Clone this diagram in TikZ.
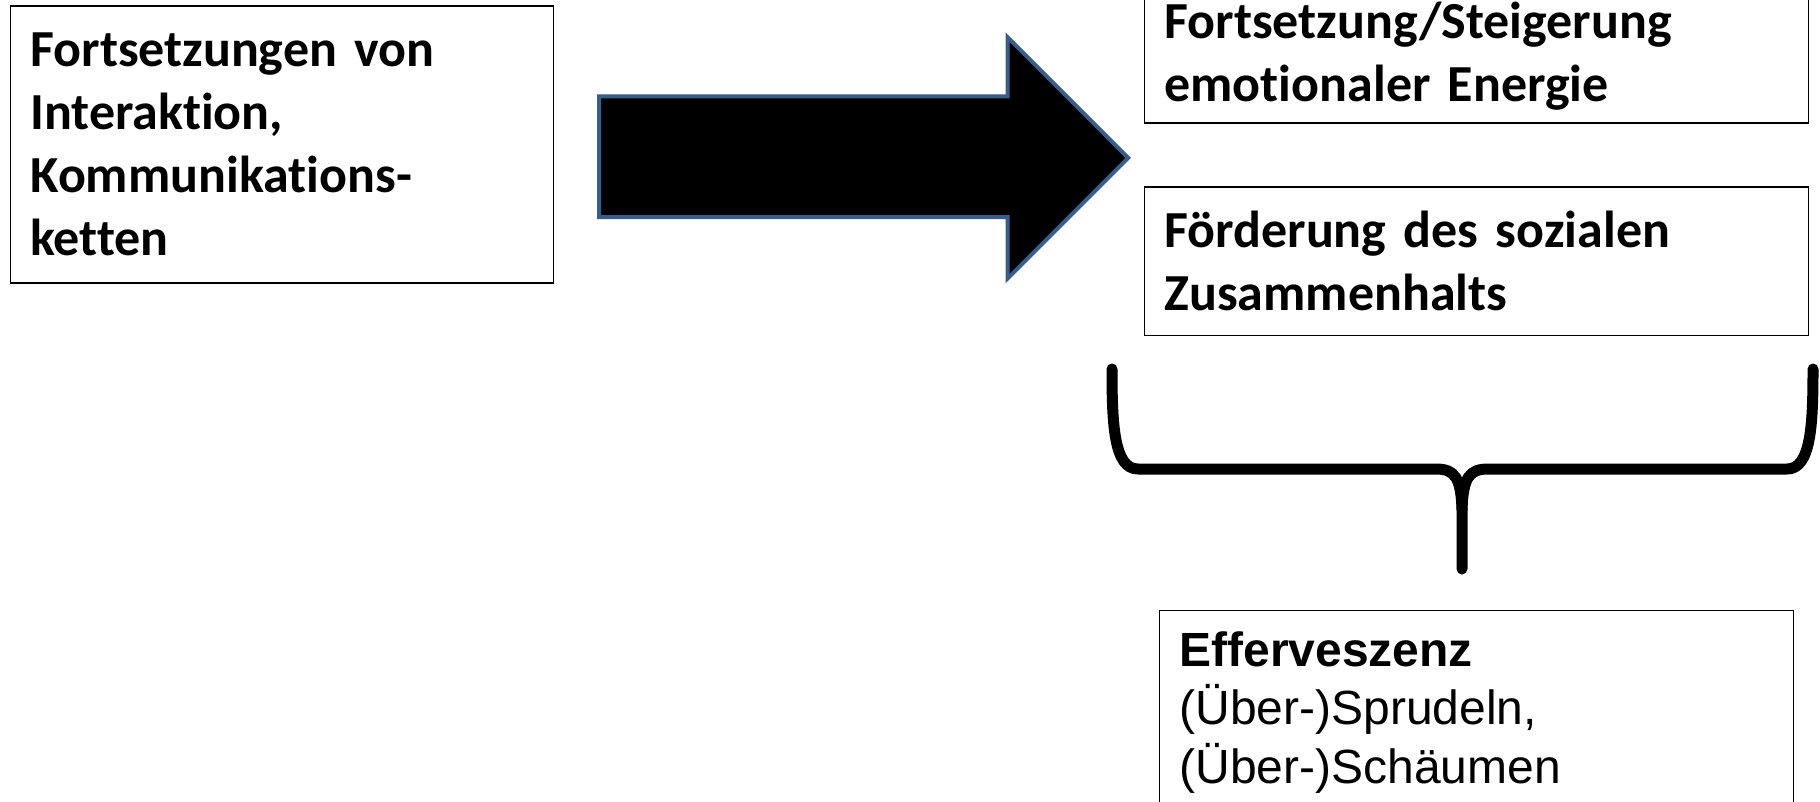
\documentclass[tikz,border=0pt]{standalone}
\usepackage{fontspec}
\setmainfont{Carlito}[Ligatures={NoCommon}]
\newfontfamily\arialf{Liberation Sans}
\definecolor{arrowblue}{RGB}{56,93,138}
\begin{document}
\begin{tikzpicture}[x=1pt,y=-1pt,
  box/.style={draw=black, line width=1.5pt, anchor=north west, align=left, outer sep=0pt,
              inner xsep=20pt, inner ysep=0pt, font=\bfseries\fontsize{52}{63}\selectfont},
  effbox/.style={draw=black, line width=1.5pt, anchor=north west, align=left, outer sep=0pt,
              inner xsep=20pt, inner ysep=0pt, font=\arialf\fontsize{48}{58.5}\selectfont},
  bracestyle/.style={line width=11pt, line cap=round, line join=round},
  blockarrow/.style={fill=black, draw=arrowblue, line width=4pt, line join=miter}]
\useasboundingbox (0,0) rectangle (1820,801);
\clip (0,0) rectangle (1820,801);
\fill[white] (0,0) rectangle (1820,801);

\node[box, text width=503pt, minimum height=277pt] (src) at (10.4,5.8)
  {Fortsetzungen von\\Interaktion,\\Kommunikations-\\ketten};

\node[box, text width=624pt, minimum height=134pt] (energy) at (1144.4,-11)
  {Fortsetzung/Steigerung\\emotionaler Energie};

\node[box, text width=624pt, minimum height=148.5pt] (social) at (1144.4,186.9)
  {Förderung des sozialen\\Zusammenhalts};

\node[effbox, text width=594pt, minimum height=204pt] (eff) at (1159.5,610.5)
  {\textbf{Efferveszenz}\\(Über-)Sprudeln,\\(Über-)Schäumen};

% block arrow
\draw[blockarrow] (599,96.3) -- (1007.5,96.3) -- (1007.5,37.1) -- (1128.2,157.9)
  -- (1007.5,278.6) -- (1007.5,217) -- (599,217) -- cycle;

% brace
\coordinate (bl) at (1112,369);
\coordinate (br) at (1813,369);
\coordinate (btip) at (1462,569);
\draw[bracestyle] (bl) .. controls (1112,425) and (1114,469) .. (1138,469)
  -- (1436,469) .. controls (1455,469) and (1461,478) .. (1462,510) -- (btip);
\draw[bracestyle] (br) .. controls (1813,425) and (1811,469) .. (1787,469)
  -- (1488,469) .. controls (1469,469) and (1463,478) .. (1462,510);
\end{tikzpicture}
\end{document}
